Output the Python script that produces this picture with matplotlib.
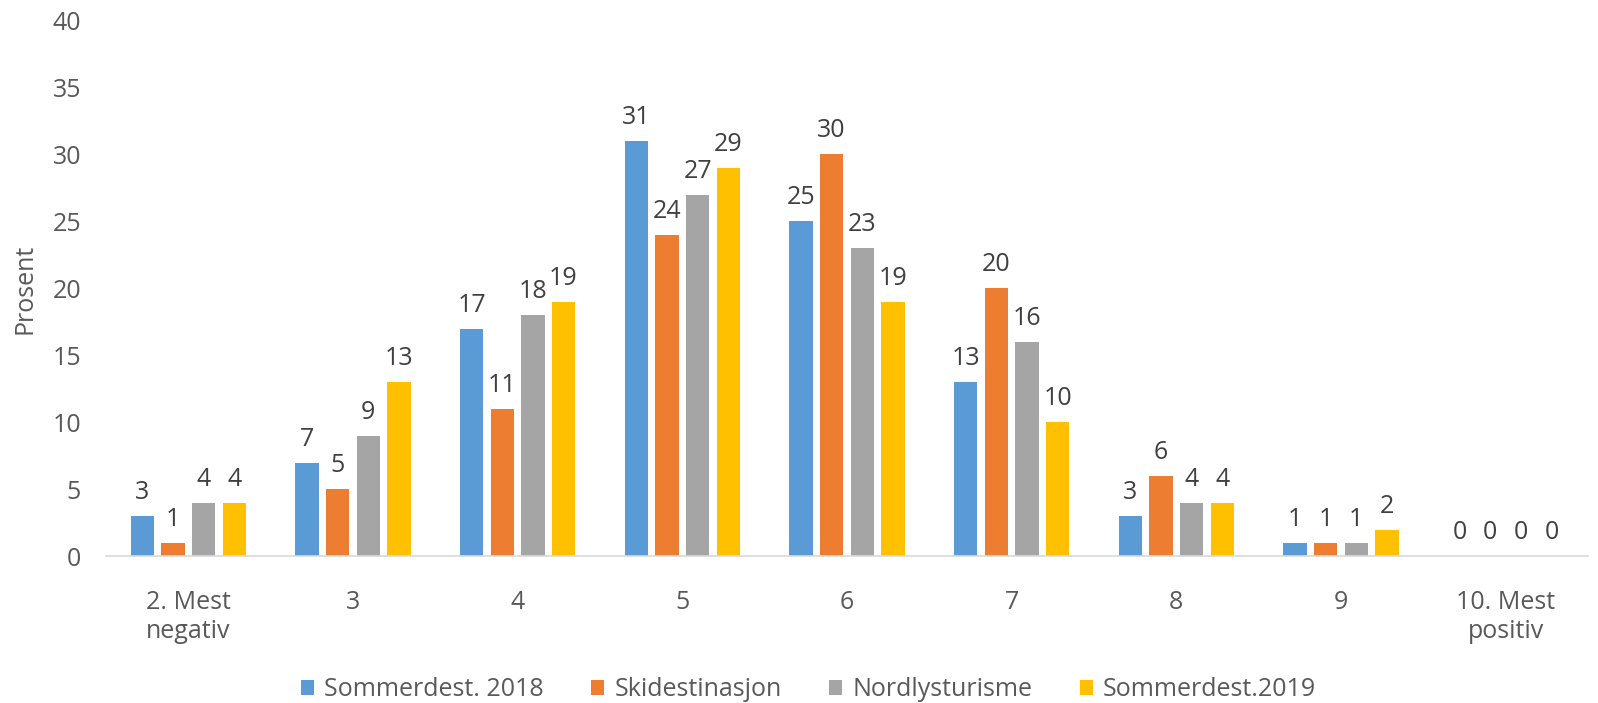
import matplotlib.pyplot as plt
import numpy as np

# Categories and series
categories = ["2. Mest\nnegativ", "3", "4", "5", "6", "7", "8", "9", "10. Mest\npositiv"]
series_names = ["Sommerdest. 2018", "Skidestinasjon", "Nordlysturisme", "Sommerdest.2019"]
sommer_2018 = [3, 7, 17, 31, 25, 13, 3, 1, 0]
skidestinasjon = [1, 5, 11, 24, 30, 20, 6, 1, 0]
nordlys = [4, 9, 18, 27, 23, 16, 4, 1, 0]
sommer_2019 = [4, 13, 19, 29, 19, 10, 4, 2, 0]
colors = ["#5B9BD5", "#ED7D31", "#A5A5A5", "#FFC000"]

plt.rcParams['font.family'] = ['Open Sans', 'DejaVu Sans']

fig = plt.figure(figsize=(15.98, 7.03), dpi=100)
ax = fig.add_axes([0.0663, 0.2084, 0.9274, 0.7626])

x = np.arange(len(categories))
width = 0.142
pitch = 0.186
offsets = (np.arange(4) - 1.5) * pitch

for vals, name, col, off in zip([sommer_2018, skidestinasjon, nordlys, sommer_2019],
                                series_names, colors, offsets):
    bars = ax.bar(x + off, vals, width=width, color=col, label=name)
    for b, v in zip(bars, vals):
        ax.annotate(str(v), (b.get_x() + b.get_width() / 2, v),
                    xytext=(0, 8), textcoords='offset points',
                    ha='center', va='bottom', fontsize=18, color='#404040')

ax.set_xlim(-0.5, len(categories) - 0.5)
ax.set_ylim(0, 40)
ax.set_yticks(range(0, 41, 5))
ax.set_xticks(x)
ax.set_xticklabels(categories, fontsize=18, color='#595959', linespacing=1.2)
ax.tick_params(axis='y', labelsize=18, labelcolor='#595959', length=0, pad=18)
ax.tick_params(axis='x', length=0, pad=24)

for s in ['top', 'right', 'left']:
    ax.spines[s].set_visible(False)
ax.spines['bottom'].set_color('#D9D9D9')
ax.spines['bottom'].set_linewidth(1.2)

ax.set_ylabel('Prosent', fontsize=18, color='#595959')
ax.yaxis.set_label_coords(-0.0465, 0.5)

leg = fig.legend(loc='center', bbox_to_anchor=(0.506, 0.019), ncol=4,
                 frameon=False, fontsize=18, handlelength=0.52, handleheight=0.52,
                 handletextpad=0.4, columnspacing=1.9)
for t in leg.get_texts():
    t.set_color('#595959')

fig.savefig('out.png', dpi=100)
